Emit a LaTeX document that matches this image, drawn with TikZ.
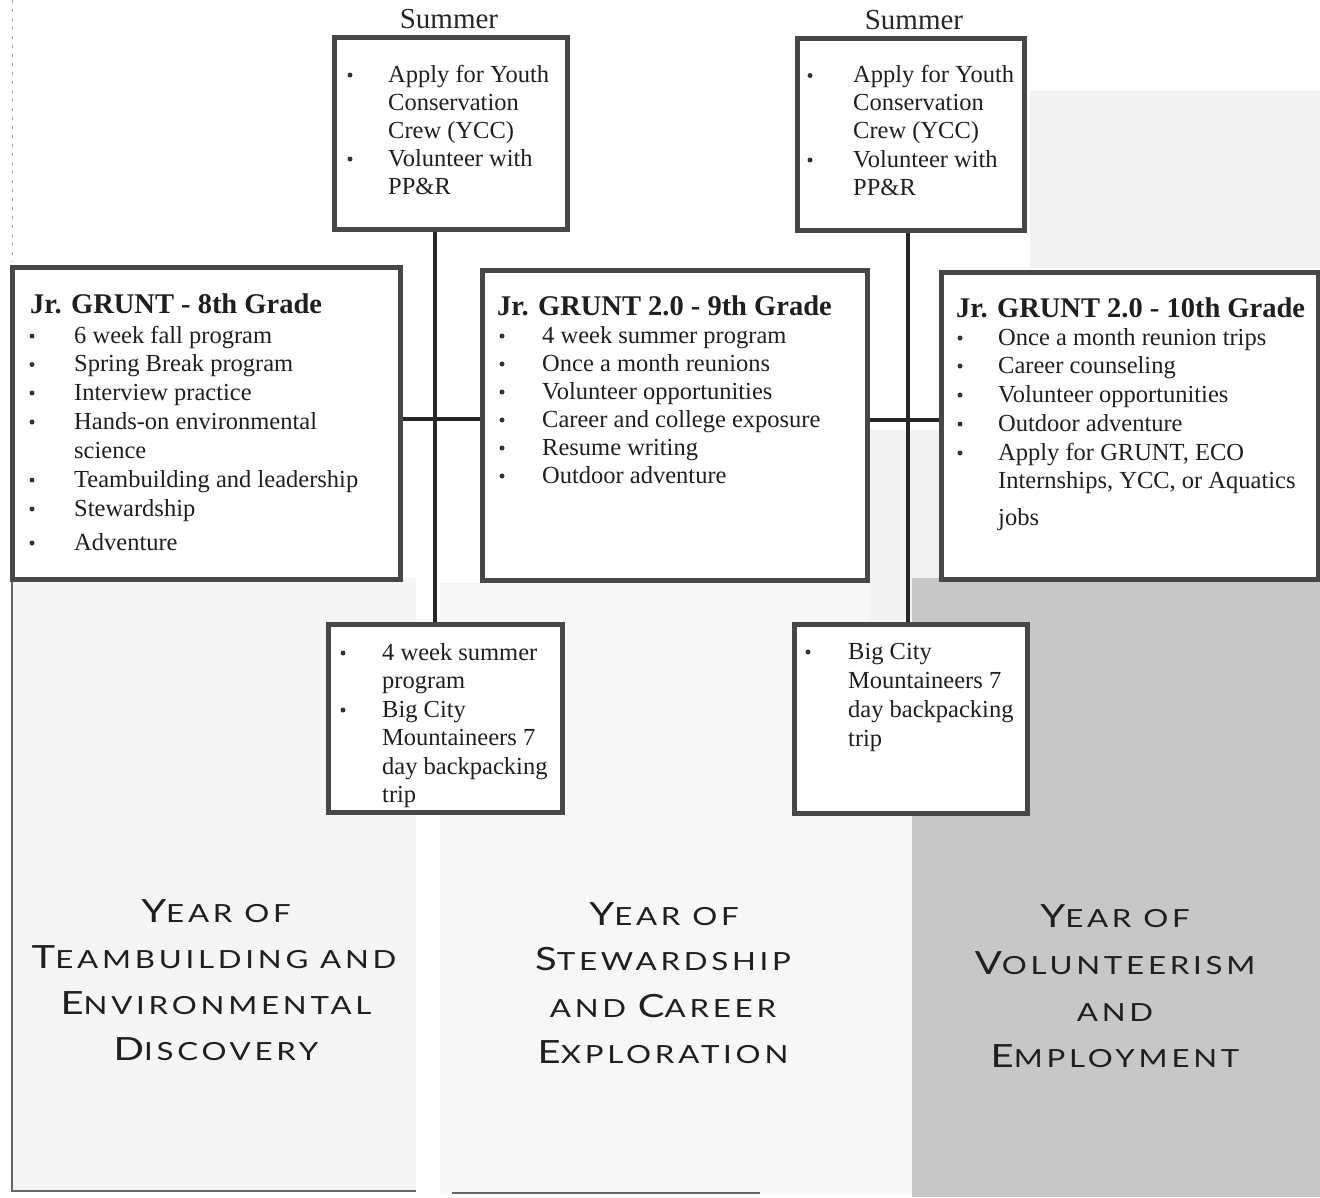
\documentclass[tikz,border=0pt]{standalone}
\usepackage{fontspec}
\setmainfont{Liberation Serif}
\newfontfamily\capfont{Lato}[LetterSpace=12]
\newcommand\bc[1]{{\fontsize{32}{32}\selectfont #1}}
\newcommand\wide[1]{\scalebox{1.25}[1]{#1}}
\begin{document}
\begin{tikzpicture}[x=1pt,y=-1pt,
  box/.style={draw=black!72, line width=4.5pt, fill=white, inner sep=0pt, anchor=north west},
  txt/.style={font=\fontsize{24.5}{29}\selectfont, text=black!88, inner sep=0pt, anchor=base west},
  ttl/.style={font=\bfseries\fontsize{28.5}{30}\selectfont, text=black!88, inner sep=0pt, anchor=base west},
  sum/.style={font=\fontsize{29}{30}\selectfont, text=black!85, inner sep=0pt, anchor=base},
  captxt/.style={font=\capfont\fontsize{25}{25}\selectfont, text=black!88, inner sep=0pt, anchor=base},
  conn/.style={draw=black!85, line width=3.5pt},
  frame/.style={draw=black!60, line width=1.3pt}]
\useasboundingbox (0,0) rectangle (1320,1197);
% background
\fill[black!4] (12,578) rectangle (416,1191);
\fill[black!3] (440,582) rectangle (912,1193);
\fill[black!5] (1030,90) rectangle (1320,268);
\fill[black!5] (870,430) rectangle (940,620);
\fill[black!22] (912,578) rectangle (1320,1197);
\draw[frame] (12,578) -- (12,1191) -- (416,1191);
\draw[black!35, line width=0.8pt, dash pattern=on 3pt off 6pt] (12,0) -- (12,262);
\draw[frame] (452,1193) -- (760,1193);
% boxes
\node[box, minimum width=233pt, minimum height=192pt] (s1) at (332,35) {};
\node[box, minimum width=227pt, minimum height=192pt] (s2) at (795,36) {};
\node[box, minimum width=388pt, minimum height=312pt] (g8) at (10,265) {};
\node[box, minimum width=385pt, minimum height=310pt] (g9) at (480,268) {};
\node[box, minimum width=377pt, minimum height=307pt] (g10) at (939,270) {};
\node[box, minimum width=234pt, minimum height=188pt] (b1) at (326,622) {};
\node[box, minimum width=233pt, minimum height=189pt] (b2) at (792,622) {};
% connectors
\coordinate (v1) at (435,0);
\coordinate (v2) at (908,0);
\coordinate (h1) at (0,419);
\coordinate (h2) at (0,420);
\draw[conn] (v1 |- s1.south) -- (v1 |- b1.north);
\draw[conn] (v2 |- s2.south) -- (v2 |- b2.north);
\draw[conn] (h1 -| g8.east) -- (h1 -| g9.west);
\draw[conn] (h2 -| g9.east) -- (h2 -| g10.west);
% summer labels
\node[sum] (sl1) at (449,28) {Summer};
\node[sum] (sl2) at (914,29) {Summer};
% bullets
\foreach \x/\y in {350/82,350/166, 810/82.5,810/167,
  32/343,32/371.5,32/400,32/429,32/487,32/516,32/550,
  502/343,502/371,502/399,502/427,502/455,502/483,
  960/345,960/373,960/402,960/431,960/460,
  343/660,343/717, 808/659}
  \fill[black!80] (\x,\y-7) circle (2.5pt);
% summer box 1
\node[txt] (s1a) at (388,82) {Apply for Youth};
\node[txt] (s1b) at (388,110) {Conservation};
\node[txt] (s1c) at (388,138) {Crew (YCC)};
\node[txt] (s1d) at (388,166) {Volunteer with};
\node[txt] (s1e) at (388,194) {PP\&R};
% summer box 2
\node[txt] (s2a) at (853,82.5) {Apply for Youth};
\node[txt] (s2b) at (853,110.5) {Conservation};
\node[txt] (s2c) at (853,138.5) {Crew (YCC)};
\node[txt] (s2d) at (853,167) {Volunteer with};
\node[txt] (s2e) at (853,195) {PP\&R};
% 8th grade
\node[ttl] (g8t) at (30,313) {Jr. GRUNT - 8th Grade};
\node[txt] (g8a) at (74,343) {6 week fall program};
\node[txt] (g8b) at (74,371.5) {Spring Break program};
\node[txt] (g8c) at (74,400) {Interview practice};
\node[txt] (g8d) at (74,429) {Hands-on environmental};
\node[txt] (g8e) at (74,458) {science};
\node[txt] (g8f) at (74,487) {Teambuilding and leadership};
\node[txt] (g8g) at (74,516) {Stewardship};
\node[txt] (g8h) at (74,550) {Adventure};
% 9th grade
\node[ttl] (g9t) at (497,315) {Jr. GRUNT 2.0 - 9th Grade};
\node[txt] (g9a) at (542,343) {4 week summer program};
\node[txt] (g9b) at (542,371) {Once a month reunions};
\node[txt] (g9c) at (542,399) {Volunteer opportunities};
\node[txt] (g9d) at (542,427) {Career and college exposure};
\node[txt] (g9e) at (542,455) {Resume writing};
\node[txt] (g9f) at (542,483) {Outdoor adventure};
% 10th grade
\node[ttl] (g10t) at (956,317) {Jr. GRUNT 2.0 - 10th Grade};
\node[txt] (g10a) at (998,345) {Once a month reunion trips};
\node[txt] (g10b) at (998,373) {Career counseling};
\node[txt] (g10c) at (998,402) {Volunteer opportunities};
\node[txt] (g10d) at (998,431) {Outdoor adventure};
\node[txt] (g10e) at (998,460) {Apply for GRUNT, ECO};
\node[txt] (g10f) at (998,488) {Internships, YCC, or Aquatics};
\node[txt] (g10g) at (998,525) {jobs};
% bottom box 1
\node[txt] (b1a) at (382,660) {4 week summer};
\node[txt] (b1b) at (382,688.5) {program};
\node[txt] (b1c) at (382,717) {Big City};
\node[txt] (b1d) at (382,745.5) {Mountaineers 7};
\node[txt] (b1e) at (382,774) {day backpacking};
\node[txt] (b1f) at (382,802.5) {trip};
% bottom box 2
\node[txt] (b2a) at (848,659) {Big City};
\node[txt] (b2b) at (848,688) {Mountaineers 7};
\node[txt] (b2c) at (848,717) {day backpacking};
\node[txt] (b2d) at (848,746) {trip};
% captions
\node[captxt] (c1a) at (216,922) {\wide{\bc{Y}EAR OF}};
\node[captxt] (c1b) at (214,968) {\wide{\bc{T}EAMBUILDING AND}};
\node[captxt] (c1c) at (216,1014) {\wide{\bc{E}NVIRONMENTAL}};
\node[captxt] (c1d) at (216,1060) {\wide{\bc{D}ISCOVERY}};
\node[captxt] (c2a) at (664,925) {\wide{\bc{Y}EAR OF}};
\node[captxt] (c2b) at (663,970) {\wide{\bc{S}TEWARDSHIP}};
\node[captxt] (c2c) at (663,1017) {\wide{AND \bc{C}AREER}};
\node[captxt] (c2d) at (663,1063) {\wide{\bc{E}XPLORATION}};
\node[captxt] (c3a) at (1115,927) {\wide{\bc{Y}EAR OF}};
\node[captxt] (c3b) at (1115,974) {\wide{\bc{V}OLUNTEERISM}};
\node[captxt] (c3c) at (1115,1021) {\wide{AND}};
\node[captxt] (c3d) at (1115,1067) {\wide{\bc{E}MPLOYMENT}};
\end{tikzpicture}
\end{document}
